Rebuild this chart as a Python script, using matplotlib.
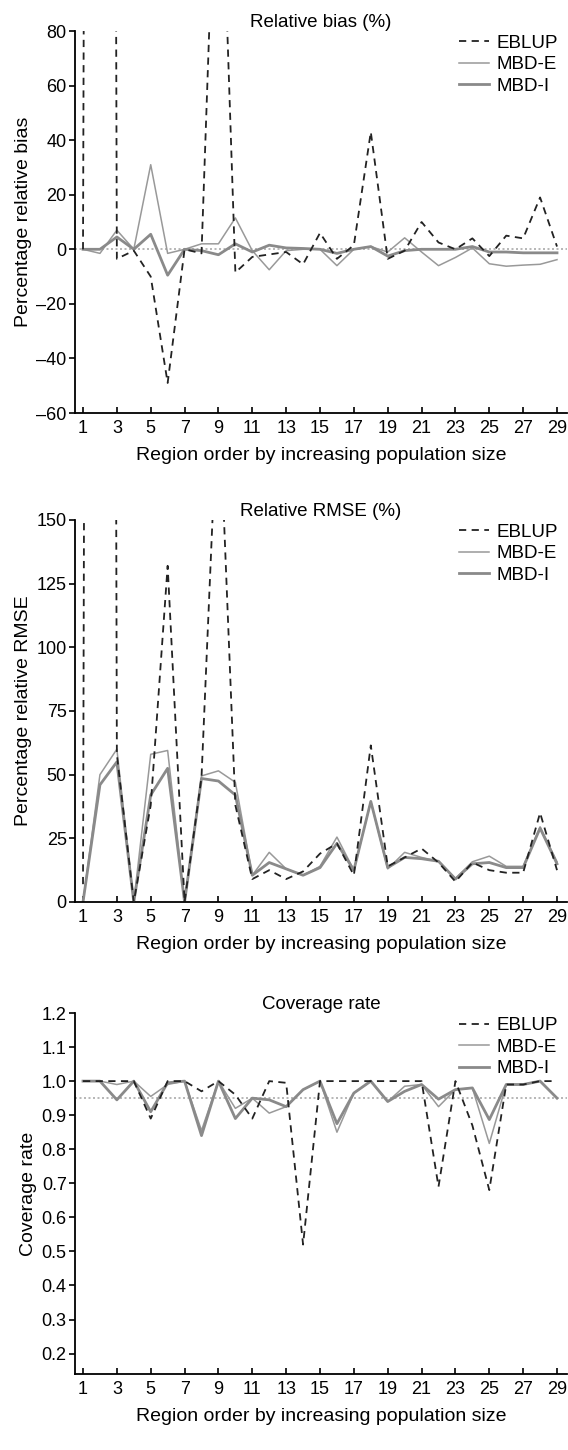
import numpy as np
import matplotlib
matplotlib.use('Agg')
import matplotlib.pyplot as plt

plt.rcParams['font.family'] = ['Liberation Sans', 'DejaVu Sans']

regions = np.arange(1, 30)

# relative bias (%)
bias_eblup = [0, 2000, -3.5, -0.5, -10, -49, 0, -1.5, 178, -8.5, -2.8, -1.9, -1, -5.5, 6,
              -3.5, 1.5, 43, -3.5, -0.5, 10, 2.5, 0, 4, -2.5, 5, 4, 19, 1]
bias_mbde = [0, -1.5, 7, 0, 31, -1.5, 0, 2, 2, 11.5, -0.5, -7.5, -0.5, 0, 0,
             -6, 0, 1, -1, 4.2, -1, -6, -3, 0.5, -5.3, -6.2, -5.8, -5.5, -3.8]
bias_mbdi = [0, 0, 4.5, 0, 5.5, -9.5, 0, -0.5, -2, 2, -1, 1.5, 0.5, 0.3, 0,
             -1.5, 0, 1, -2.5, -0.5, 0, 0, 0, 1, -1, -1, -1.3, -1.3, -1.3]

# relative RMSE (%)
rmse_eblup = [7, 2500, 58, 0, 38, 132, 0, 49, 205, 38, 9, 12.5, 9, 12, 19,
              23, 10.5, 61.5, 14, 17.5, 21, 15.5, 8, 15.5, 12.5, 11.5, 11.5, 35, 12.5]
rmse_mbde = [0, 50, 60, 0, 58, 59.5, 0, 49.5, 51.5, 47, 10.5, 19.5, 13, 10.5, 14,
             25.5, 12.5, 39.5, 13, 19.5, 17.5, 16, 9.3, 15.8, 18, 14, 14, 29.5, 15.8]
rmse_mbdi = [0, 46, 55, 0, 42, 52.5, 0, 48.5, 47.5, 42, 10.5, 15.5, 13, 10.5, 13.5,
             23, 12.5, 39.5, 13.5, 17.5, 17, 16, 9, 15, 15.5, 13.5, 13.5, 29, 15]

# coverage rate
cov_eblup = [1.0, 1.0, 1.0, 1.0, 0.89, 1.0, 1.0, 0.97, 1.0, 0.96, 0.89, 1.0, 0.995, 0.52, 1.0,
             1.0, 1.0, 1.0, 1.0, 1.0, 1.0, 0.69, 1.0, 0.87, 0.68, 0.99, 0.99, 1.0, 1.0]
cov_mbde = [1.0, 1.0, 0.99, 1.0, 0.955, 0.99, 1.0, 0.855, 1.0, 0.92, 0.95, 0.906, 0.925, 0.975, 1.0,
            0.85, 0.965, 1.0, 0.94, 0.985, 0.99, 0.925, 0.975, 0.98, 0.817, 0.99, 0.99, 1.0, 0.95]
cov_mbdi = [1.0, 1.0, 0.945, 1.0, 0.91, 0.995, 1.0, 0.84, 1.0, 0.89, 0.95, 0.945, 0.925, 0.975, 1.0,
            0.875, 0.965, 1.0, 0.94, 0.97, 0.99, 0.947, 0.975, 0.98, 0.887, 0.99, 0.99, 1.0, 0.95]

panels = [
    ('Relative bias (%)', 'Percentage relative bias', bias_eblup, bias_mbde, bias_mbdi,
     (-60, 80), np.arange(-60, 81, 20), 0, '%d'),
    ('Relative RMSE (%)', 'Percentage relative RMSE', rmse_eblup, rmse_mbde, rmse_mbdi,
     (0, 150), np.arange(0, 151, 25), None, '%d'),
    ('Coverage rate', 'Coverage rate', cov_eblup, cov_mbde, cov_mbdi,
     (0.14, 1.2), np.arange(0.2, 1.21, 0.1), 0.95, '%.1f'),
]

W, H = 568, 1450
fig = plt.figure(figsize=(W / 100, H / 100), dpi=100)
boxes = [(31, 413), (520, 902), (1013, 1374)]  # top, bottom in pixels

for (title, ylab, e, me, mi, ylim, yt, ref, fmt), (top, bot) in zip(panels, boxes):
    ax = fig.add_axes([75 / W, 1 - bot / H, 492 / W, (bot - top) / H])
    if ref is not None:
        ax.axhline(ref, color='#aaaaaa', lw=1.2, ls=(0, (1.2, 1.5)), zorder=1)
    ax.plot(regions, e, color='#222222', lw=1.3, ls=(0, (4, 3)), label='EBLUP', zorder=3)
    ax.plot(regions, me, color='#999999', lw=1.1, label='MBD-E', zorder=2)
    ax.plot(regions, mi, color='#8a8a8a', lw=2.0, label='MBD-I', zorder=2)

    ax.set_xlim(0.527, 29.59)
    ax.set_ylim(*ylim)
    ax.set_xticks(np.arange(1, 30, 2))
    ax.set_yticks(yt)
    ax.set_yticklabels([(fmt % v).replace('-', '\u2013') for v in yt])
    ax.tick_params(axis='x', direction='in', length=4, width=1.2, labelsize=13, pad=5)
    ax.tick_params(axis='y', direction='out', length=4, width=1.2, labelsize=13, pad=2)
    for s in ['top', 'right']:
        ax.spines[s].set_visible(False)
    for s in ['left', 'bottom']:
        ax.spines[s].set_linewidth(1.3)

    ax.set_title(title, fontsize=13.5, pad=2)
    ax.set_xlabel('Region order by increasing population size', fontsize=14, labelpad=7)
    ax.set_ylabel(ylab, fontsize=14, labelpad=3)
    ax.legend(loc='upper right', frameon=False, fontsize=13.5, handlelength=1.6,
              handletextpad=0.4, labelspacing=0.24, borderaxespad=0.2,
              bbox_to_anchor=(1.005, 1.02))

fig.savefig('out.png', dpi=100)
